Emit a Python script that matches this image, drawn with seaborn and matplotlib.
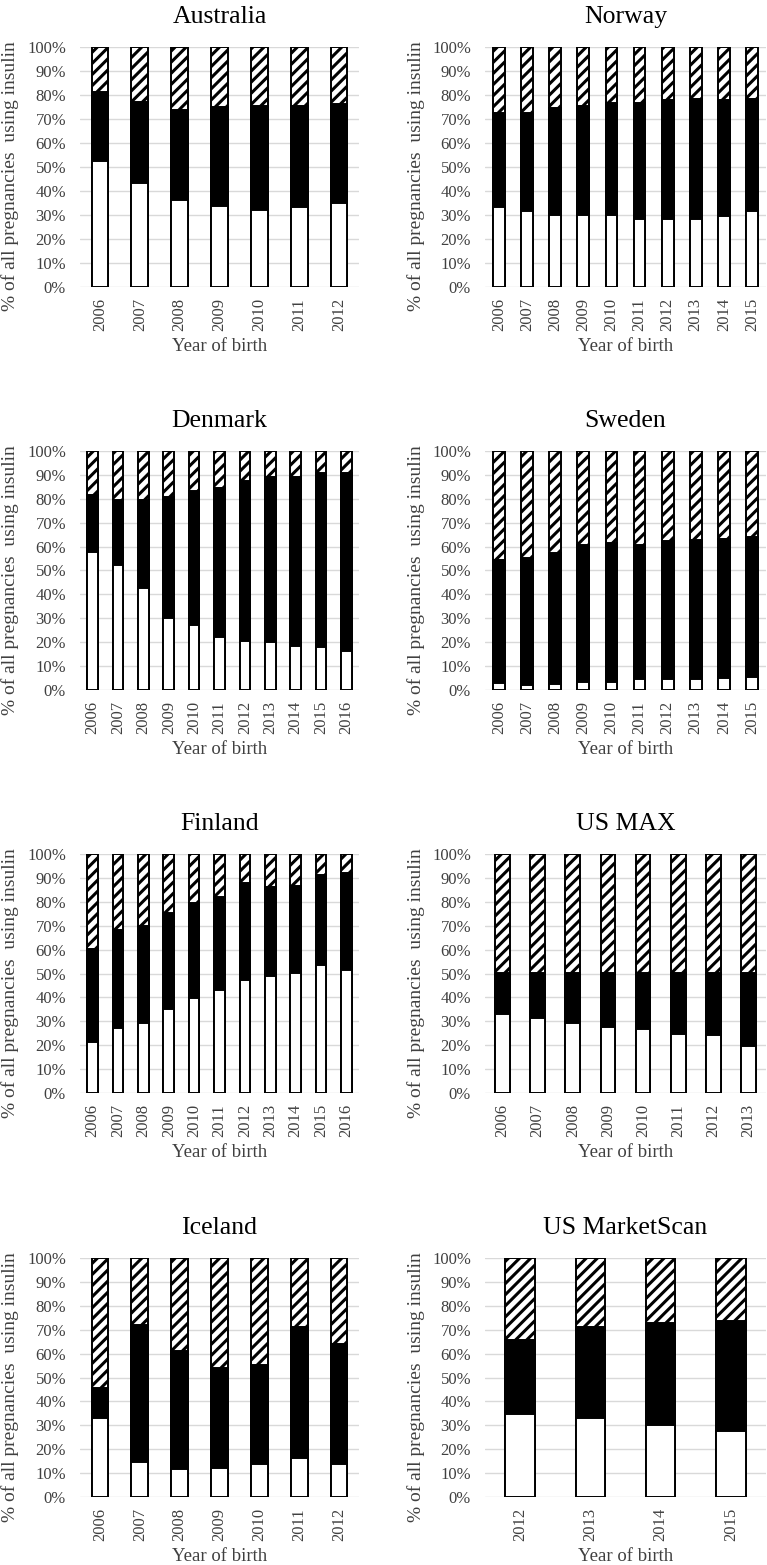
import pandas as pd
import matplotlib.pyplot as plt
import seaborn as sns
from matplotlib.ticker import PercentFormatter

# =====================================
# DATA (share of pregnancies, %)
# white = bottom segment, black = middle, hatched = remainder to 100
# =====================================

aus_years = ["2006", "2007", "2008", "2009", "2010", "2011", "2012"]
aus_white = [52.5, 43.2, 36.2, 33.7, 32.0, 33.3, 34.8]
aus_black = [28.6, 33.7, 37.6, 41.1, 43.5, 42.2, 41.4]

nor_years = ["2006", "2007", "2008", "2009", "2010", "2011", "2012", "2013", "2014", "2015"]
nor_white = [33.4, 31.5, 30.2, 29.9, 30.2, 28.3, 28.3, 28.3, 29.5, 31.5]
nor_black = [39.3, 40.9, 44.3, 45.6, 46.4, 48.3, 49.7, 50.0, 48.5, 46.9]

den_years = ["2006", "2007", "2008", "2009", "2010", "2011", "2012", "2013", "2014", "2015", "2016"]
den_white = [57.9, 52.4, 42.8, 30.1, 27.3, 22.1, 20.5, 20.2, 18.4, 18.0, 16.3]
den_black = [23.6, 27.3, 36.9, 50.7, 55.8, 62.4, 67.0, 68.9, 70.7, 72.9, 74.6]

swe_years = ["2006", "2007", "2008", "2009", "2010", "2011", "2012", "2013", "2014", "2015"]
swe_white = [2.8, 2.1, 2.5, 3.5, 3.5, 4.4, 4.4, 4.4, 4.9, 5.4]
swe_black = [51.4, 53.2, 54.7, 57.3, 57.9, 56.4, 58.1, 58.4, 58.3, 58.5]

fin_years = ["2006", "2007", "2008", "2009", "2010", "2011", "2012", "2013", "2014", "2015", "2016"]
fin_white = [21.2, 27.3, 29.3, 35.3, 39.8, 43.3, 47.1, 48.8, 50.4, 53.7, 51.3]
fin_black = [39.2, 41.1, 40.5, 40.2, 39.9, 38.7, 40.6, 37.6, 36.3, 37.5, 40.7]

max_years = ["2006", "2007", "2008", "2009", "2010", "2011", "2012", "2013"]
max_white = [33.1, 31.2, 29.4, 27.6, 26.6, 24.8, 24.1, 19.5]
max_black = [17.1, 19.0, 20.8, 22.6, 23.6, 25.4, 26.1, 30.7]

ice_years = ["2006", "2007", "2008", "2009", "2010", "2011", "2012"]
ice_white = [33.1, 14.7, 11.6, 12.2, 14.0, 16.5, 13.7]
ice_black = [12.4, 57.3, 49.6, 41.9, 41.2, 54.8, 50.3]

ms_years = ["2012", "2013", "2014", "2015"]
ms_white = [34.8, 33.0, 30.2, 27.7]
ms_black = [30.8, 38.0, 42.4, 46.1]

panels = [
    ("Australia", aus_years, aus_white, aus_black),
    ("Norway", nor_years, nor_white, nor_black),
    ("Denmark", den_years, den_white, den_black),
    ("Sweden", swe_years, swe_white, swe_black),
    ("Finland", fin_years, fin_white, fin_black),
    ("US MAX", max_years, max_white, max_black),
    ("Iceland", ice_years, ice_white, ice_black),
    ("US MarketScan", ms_years, ms_white, ms_black),
]

# =====================================
# STYLE
# =====================================

sns.set_style("white")
plt.rcParams["font.family"] = ["Liberation Serif", "DejaVu Serif"]
plt.rcParams["hatch.linewidth"] = 2.2
plt.rcParams["hatch.color"] = "black"

TEXT = "#404040"

fig = plt.figure(figsize=(7.67, 15.65), dpi=100)

W, H = 767, 1565
col_x = [(80, 359), (485, 766)]
row_y = [(47, 287), (451, 690), (854, 1093), (1258, 1497)]
ylabel_right = [19, 425]

BAR_W = 0.42

for i, (name, years, white, black) in enumerate(panels):
    r, c = divmod(i, 2)
    x0, x1 = col_x[c]
    y0, y1 = row_y[r]
    ax = fig.add_axes([x0 / W, 1 - y1 / H, (x1 - x0) / W, (y1 - y0) / H])

    df = pd.DataFrame({"year": years, "white": white, "black": black})
    df["hatched"] = 100 - df["white"] - df["black"]
    df["mid_top"] = df["white"] + df["black"]
    df["total"] = df["mid_top"] + df["hatched"]

    common = dict(x="year", order=years, width=BAR_W, errorbar=None,
                  saturation=1, edgecolor="black", linewidth=1.4, ax=ax, zorder=3)
    sns.barplot(data=df, y="total", color="white", hatch="///", **common)
    sns.barplot(data=df, y="mid_top", color="black", **common)
    sns.barplot(data=df, y="white", color="white", **common)

    ax.set_ylim(0, 100)
    ax.set_xlim(-0.5, len(years) - 0.5)
    ax.set_yticks(range(0, 101, 10))
    ax.yaxis.set_major_formatter(PercentFormatter(decimals=0))
    ax.grid(axis="y", color="#d9d9d9", linewidth=1.0, zorder=0)
    ax.grid(axis="x", visible=False)
    ax.set_axisbelow(True)
    for s in ax.spines.values():
        s.set_visible(False)

    ax.tick_params(axis="y", length=0, pad=10, labelsize=12, labelcolor=TEXT)
    ax.tick_params(axis="x", length=0, pad=8, labelsize=12, labelcolor=TEXT,
                   labelrotation=90)

    ax.set_title(name, fontsize=18.5, color="black", pad=17)
    ax.set_xlabel("Year of birth", fontsize=13.5, color=TEXT, labelpad=5)
    ax.set_ylabel("% of all pregnancies  using insulin", fontsize=14, color=TEXT)
    ax.yaxis.set_label_coords((ylabel_right[c] - x0) / (x1 - x0), 0.46)

fig.savefig("out.png", dpi=100)
